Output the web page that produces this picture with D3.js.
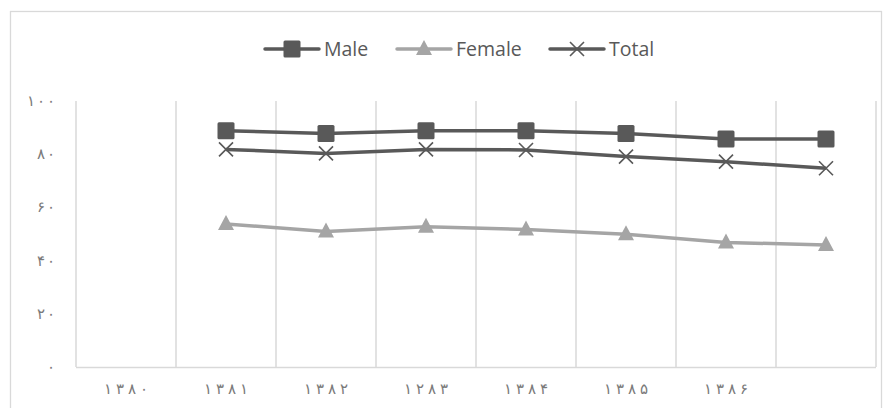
<!DOCTYPE html>
<html>
<head>
<meta charset="utf-8">
<script src="https://cdn.jsdelivr.net/npm/d3@7/dist/d3.min.js"></script>
<style>
  html, body { margin: 0; padding: 0; background: #fff; }
  svg { display: block; }
</style>
</head>
<body>
<svg id="chart" width="892" height="408"></svg>
<script>
const categories = ["۱۳۸۰", "۱۳۸۱", "۱۳۸۲", "۱۲۸۳", "۱۳۸۴", "۱۳۸۵", "۱۳۸۶", ""];
const maleValues   = [null, 88.8, 87.8, 88.8, 88.8, 87.8, 85.7, 85.7];
const femaleValues = [null, 53.8, 50.9, 52.7, 51.7, 49.9, 46.8, 45.9];
const totalValues  = [null, 81.8, 80.3, 81.8, 81.6, 79.1, 77.2, 74.7];
const yTickValues = [0, 20, 40, 60, 80, 100];
const yTickLabels = ["۰", "۲۰", "۴۰", "۶۰", "۸۰", "۱۰۰"];
const seriesNames = ["Male", "Female", "Total"];

const svg = d3.select("#chart");
const plot = { left: 76, right: 876, top: 101, bottom: 367 };

// chart border
svg.append("rect").attr("x", 10.5).attr("y", 11.5).attr("width", 871).attr("height", 410)
  .attr("fill", "#fff").attr("stroke", "#d9d9d9").attr("stroke-width", 1.3);

const x = d3.scaleBand().domain(categories.map((c, i) => i)).range([plot.left, plot.right]).padding(0);
const y = d3.scaleLinear().domain([0, 100]).range([plot.bottom, plot.top]);
const cx = i => x(i) + x.bandwidth() / 2;

// vertical gridlines at category boundaries
const bounds = categories.map((c, i) => x(i)).concat([x(categories.length - 1) + x.bandwidth()]);
svg.append("g").selectAll("line").data(bounds).join("line")
  .attr("x1", d => d).attr("x2", d => d)
  .attr("y1", plot.top).attr("y2", plot.bottom)
  .attr("stroke", "#d9d9d9").attr("stroke-width", 1.5);

// bottom axis line
svg.append("line").attr("x1", plot.left).attr("x2", plot.right)
  .attr("y1", plot.bottom + 0.5).attr("y2", plot.bottom + 0.5)
  .attr("stroke", "#d9d9d9").attr("stroke-width", 1.5);

// spread digits apart (letter-spacing is ignored for Arabic script)
function spreadDigits(sel, gap) {
  sel.each(function () {
    const t = d3.select(this);
    const s = t.text();
    t.text(null);
    Array.from(s).forEach((ch, k) => {
      t.append("tspan").attr("dx", k === 0 ? 0 : gap).text(ch);
    });
  });
}

// x tick labels via axis
const xAxis = d3.axisBottom(x).tickSize(0).tickPadding(0).tickFormat(i => categories[i]);
const gx = svg.append("g").attr("transform", `translate(0,${plot.bottom})`).call(xAxis);
gx.select(".domain").remove();
gx.selectAll("text").attr("y", 22).attr("dy", "0.35em")
  .attr("fill", "#7a7a7a").style("font-family", "DejaVu Sans").style("font-size", "15px")
  .style("font-weight", "200")
  .call(spreadDigits, 4);

// y tick labels via axis
const yAxis = d3.axisLeft(y).tickValues(yTickValues).tickSize(0).tickPadding(0)
  .tickFormat(v => yTickLabels[yTickValues.indexOf(v)]);
const gy = svg.append("g").attr("transform", `translate(55,0)`).call(yAxis);
gy.select(".domain").remove();
gy.selectAll("text").attr("x", 0).attr("dy", "0.3em")
  .attr("fill", "#7a7a7a").style("font-family", "DejaVu Sans").style("font-size", "15px")
  .style("font-weight", "200")
  .call(spreadDigits, 2);

const series = [
  { name: seriesNames[0], values: maleValues, color: "#595959", marker: "square" },
  { name: seriesNames[1], values: femaleValues, color: "#a5a5a5", marker: "triangle" },
  { name: seriesNames[2], values: totalValues, color: "#595959", marker: "x" }
];

const line = d3.line().defined(d => d.v != null).x(d => cx(d.i)).y(d => y(d.v));

function drawMarker(g, type, color, px, py) {
  if (type === "square") {
    g.append("rect").attr("x", px - 8.5).attr("y", py - 8.5).attr("width", 17).attr("height", 17)
      .attr("rx", 1.5).attr("fill", color);
  } else if (type === "triangle") {
    g.append("path").attr("d", `M${px},${py - 9} L${px + 8},${py + 6} L${px - 8},${py + 6} Z`)
      .attr("fill", color);
  } else {
    const s = 7;
    g.append("path").attr("d", `M${px - s},${py - s} L${px + s},${py + s} M${px + s},${py - s} L${px - s},${py + s}`)
      .attr("stroke", color).attr("stroke-width", 1.6).attr("fill", "none");
  }
}

// draw series (Female first so darker lines stay on top)
[series[1], series[2], series[0]].forEach(s => {
  const pts = s.values.map((v, i) => ({ i, v }));
  const g = svg.append("g");
  g.append("path").datum(pts).attr("d", line).attr("fill", "none")
    .attr("stroke", s.color).attr("stroke-width", 3.5).attr("stroke-linejoin", "round");
  pts.filter(d => d.v != null).forEach(d => drawMarker(g, s.marker, s.color, cx(d.i), y(d.v)));
});

// legend
const legendItems = [
  { s: series[0], x0: 265 },
  { s: series[1], x0: 397 },
  { s: series[2], x0: 550 }
];
const ly = 49;
legendItems.forEach(it => {
  const g = svg.append("g");
  g.append("line").attr("x1", it.x0).attr("x2", it.x0 + 54).attr("y1", ly).attr("y2", ly)
    .attr("stroke", it.s.color).attr("stroke-width", 3.5).attr("stroke-linecap", "round");
  drawMarker(g, it.s.marker, it.s.color, it.x0 + 27, ly);
  g.append("text").attr("x", it.x0 + 59).attr("y", ly).attr("dy", "0.36em")
    .attr("fill", "#595959").style("font-family", "Open Sans, sans-serif").style("font-size", "19.5px")
    .text(it.s.name);
});
</script>
</body>
</html>
